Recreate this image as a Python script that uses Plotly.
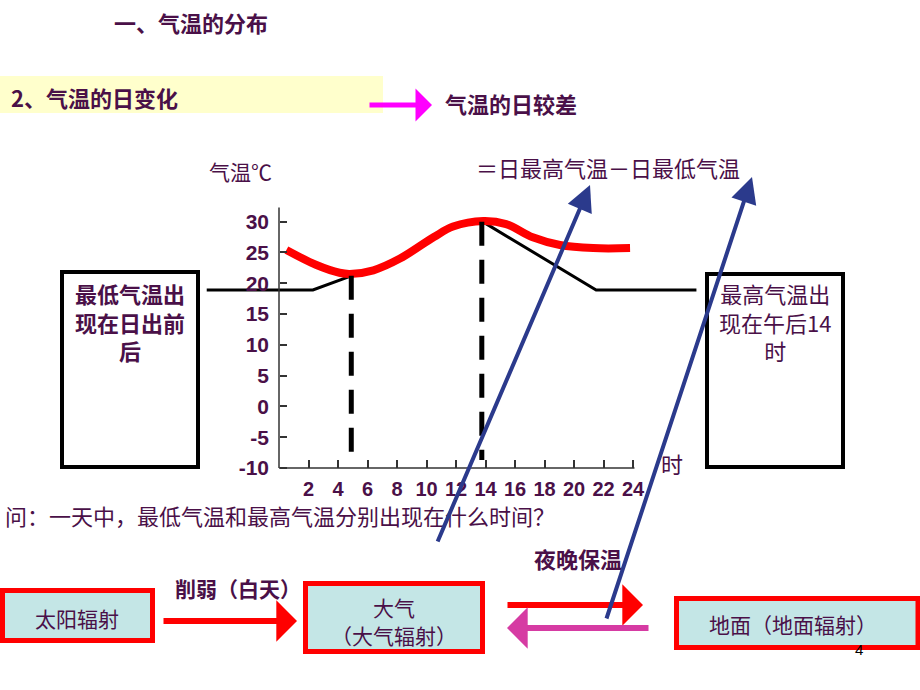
import plotly.graph_objects as go

# ---------------- data ----------------
hours_ticks = [2, 4, 6, 8, 10, 12, 14, 16, 18, 20, 22, 24]
temp_ticks = [-10, -5, 0, 5, 10, 15, 20, 25, 30]

# red curve (actual daily temperature curve)
red_h = [0.5, 2.5, 4.1, 4.8, 6.4, 8.2, 10.5, 11.8, 13.85, 15.4, 17.2, 19.05, 21.3, 23.8]
red_t = [25.4, 23.0, 21.7, 21.5, 22.1, 24.0, 27.5, 29.2, 30.1, 29.6, 27.45, 26.2, 25.7, 25.7]

# black schematic line (two visible parts)
blk1_h = [-4.9, 2.3, 4.9]
blk1_t = [18.9, 18.9, 21.2]
blk2_h = [13.8, 21.5, 28.3]
blk2_t = [30.0, 18.9, 18.9]

# dashed markers for min / max times
min_h, min_t = 4.9, 21.2
max_h, max_t = 13.75, 30.0
dash_bottom = -8.7

PURPLE = "#4A1048"
CJK = "Noto Sans CJK SC"
W, H = 920, 690


def X(px):
    return px / W


def Y(py):
    return 1 - py / H


fig = go.Figure()

fig.add_trace(go.Scatter(x=blk1_h, y=blk1_t, mode="lines",
                         line=dict(color="black", width=3), hoverinfo="skip"))
fig.add_trace(go.Scatter(x=blk2_h, y=blk2_t, mode="lines",
                         line=dict(color="black", width=3), hoverinfo="skip"))
fig.add_trace(go.Scatter(x=red_h, y=red_t, mode="lines",
                         line=dict(color="#FF0000", width=8, shape="spline", smoothing=1.0),
                         hoverinfo="skip"))
for hh, tt in [(min_h, min_t), (max_h, max_t)]:
    fig.add_trace(go.Scatter(x=[hh, hh], y=[tt, dash_bottom], mode="lines",
                             line=dict(color="black", width=5, dash="24px,14px"),
                             hoverinfo="skip"))

shapes = []
# axis lines in data coords
shapes.append(dict(type="line", xref="x", yref="y", x0=0, x1=24.1, y0=-10, y1=-10,
                   line=dict(color="#333333", width=1.5)))
shapes.append(dict(type="line", xref="x", yref="y", x0=0, x1=0, y0=-10, y1=32.3,
                   line=dict(color="#333333", width=1.5)))

# yellow band
shapes.append(dict(type="rect", xref="paper", yref="paper", x0=X(0), x1=X(383), y0=Y(113), y1=Y(76),
                   fillcolor="#FFFFCC", line=dict(width=0), layer="below"))

# black boxes
for (x0, x1, y0, y1) in [(62, 198, 272, 467), (707, 843, 274, 467)]:
    shapes.append(dict(type="rect", xref="paper", yref="paper", x0=X(x0), x1=X(x1), y0=Y(y1), y1=Y(y0),
                       fillcolor="white", line=dict(color="black", width=4), layer="below"))

# red-bordered boxes
for (x0, x1, y0, y1) in [(2.5, 152.5, 590.5, 640.5), (305.5, 482.5, 583.5, 651.5), (676.5, 918, 598.5, 647.5)]:
    shapes.append(dict(type="rect", xref="paper", yref="paper", x0=X(x0), x1=X(x1), y0=Y(y1), y1=Y(y0),
                       fillcolor="#C4E6E6", line=dict(color="#FF0000", width=5), layer="below"))

ann = []


def text(s, px, py, size=22, bold=False, color=PURPLE, xanchor="center", family=CJK):
    ann.append(dict(text=s, x=X(px), y=Y(py), xref="paper", yref="paper", showarrow=False,
                    xanchor=xanchor, yanchor="middle",
                    font=dict(family=family, size=size, color=color,
                              weight="bold" if bold else "normal")))


def arrow(x0, y0, x1, y1, color, width, head=2, size=1.0):
    ann.append(dict(text="", x=X(x1), y=Y(y1), xref="paper", yref="paper",
                    ax=x0 - x1, ay=y0 - y1, axref="pixel", ayref="pixel",
                    showarrow=True, arrowhead=head, arrowsize=size, arrowwidth=width,
                    arrowcolor=color, standoff=0, startstandoff=0))


text("一、气温的分布", 191, 22, 22, True)
text("2、气温的日变化", 9, 97, 22, True, xanchor="left")
text("气温的日较差", 511, 103, 22, True)
text("＝日最高气温－日最低气温", 608, 167, 22, False)
text("气温℃", 240, 171, 21, False)
text("时", 672, 463, 22, False)
text("最低气温出<br>现在日出前<br>后", 130, 321, 22, True)
text("最高气温出<br>现在午后14<br>时", 775, 321, 22, False)
text("问：一天中，最低气温和最高气温分别出现在什么时间？", 3, 515, 22, False, xanchor="left")
text("太阳辐射", 77, 618, 21)
text("削弱（白天）", 238, 588, 21, True)
text("大气", 394, 607, 21)
text("（大气辐射）", 394, 635, 21)
text("夜晚保温", 578, 558, 22, True)
text("地面（地面辐射）", 793, 624, 21)
text("4", 859, 649, 15, False, color="black", family="Liberation Sans")

arrow(368, 105, 432, 105, "#FF00FF", 5, head=1, size=1.1)
arrow(162, 621, 297, 621, "#FF0000", 6, head=1, size=1.15)
arrow(506, 605, 643, 605, "#FF0000", 6, head=1, size=1.15)
arrow(650, 628, 507, 628, "#D63BA3", 6, head=1, size=1.15)
arrow(437, 543, 590, 185, "#2B3A8C", 4, head=2, size=1.3)
arrow(606, 620, 752, 177, "#2B3A8C", 4, head=2, size=1.3)

fig.update_layout(
    width=W, height=H, margin=dict(l=0, r=0, t=0, b=0),
    paper_bgcolor="white", plot_bgcolor="rgba(0,0,0,0)", showlegend=False,
    shapes=shapes, annotations=ann,
    xaxis=dict(domain=[190.5 / W, 721.5 / W], range=[-6, 30], anchor="free", position=Y(468),
               tickvals=hours_ticks, ticktext=[str(v) for v in hours_ticks],
               ticks="inside", ticklen=8, tickwidth=1.5, tickcolor="#333333",
               showgrid=False, zeroline=False, showline=False, ticklabelstandoff=7,
               tickfont=dict(family="Liberation Sans", size=20, color=PURPLE, weight="bold")),
    yaxis=dict(domain=[Y(480.3), Y(197.0)], range=[-12, 34], anchor="free", position=X(279),
               tickvals=temp_ticks, ticktext=[str(v) for v in temp_ticks],
               ticks="inside", ticklen=7, tickwidth=1.5, tickcolor="#333333",
               showgrid=False, zeroline=False, showline=False, ticklabelstandoff=10,
               tickfont=dict(family="Liberation Sans", size=21, color=PURPLE, weight="bold")),
)

fig.write_html("out.html")
